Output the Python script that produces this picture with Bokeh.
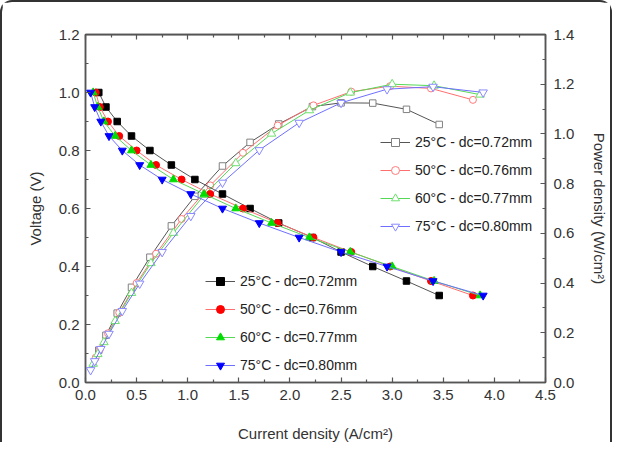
from bokeh.plotting import figure
from bokeh.models import (Range1d, LinearAxis, Legend, LegendItem, FixedTicker,
                          NumeralTickFormatter, CustomJSTickFormatter, Span)
from bokeh.embed import file_html
from bokeh.resources import INLINE

# ---- data ----
voltage = [1.0, 0.95, 0.9, 0.85, 0.8, 0.75, 0.7, 0.65, 0.6, 0.55, 0.5, 0.45, 0.4, 0.35, 0.3]

current_25 = [0.13, 0.20, 0.31, 0.45, 0.63, 0.84, 1.07, 1.34, 1.61, 1.89, 2.22, 2.50, 2.81, 3.14, 3.46]
current_50 = [0.10, 0.14, 0.22, 0.33, 0.50, 0.69, 0.94, 1.22, 1.54, 1.88, 2.23, 2.60, 2.98, 3.38, 3.79]
current_60 = [0.075, 0.12, 0.18, 0.29, 0.45, 0.64, 0.86, 1.16, 1.47, 1.82, 2.19, 2.59, 3.00, 3.41, 3.86]
current_75 = [0.05, 0.09, 0.15, 0.23, 0.36, 0.53, 0.75, 1.03, 1.34, 1.70, 2.09, 2.50, 2.95, 3.40, 3.89]

power_25 = [0.130, 0.190, 0.279, 0.383, 0.504, 0.630, 0.749, 0.871, 0.966, 1.040, 1.110, 1.125, 1.124, 1.099, 1.038]
power_50 = [0.100, 0.133, 0.198, 0.281, 0.400, 0.518, 0.658, 0.793, 0.924, 1.034, 1.115, 1.170, 1.192, 1.183, 1.137]
power_60 = [0.075, 0.114, 0.162, 0.247, 0.360, 0.480, 0.602, 0.754, 0.882, 1.001, 1.095, 1.166, 1.200, 1.194, 1.158]
power_75 = [0.050, 0.086, 0.135, 0.196, 0.288, 0.398, 0.525, 0.670, 0.804, 0.935, 1.045, 1.125, 1.180, 1.190, 1.167]

series_labels = ["25°C - dc=0.72mm", "50°C - dc=0.76mm", "60°C - dc=0.77mm", "75°C - dc=0.80mm"]

x_ticks = [0.0, 0.5, 1.0, 1.5, 2.0, 2.5, 3.0, 3.5, 4.0, 4.5]
x_minor = [0.25, 0.75, 1.25, 1.75, 2.25, 2.75, 3.25, 3.75, 4.25]
v_ticks = [0.0, 0.2, 0.4, 0.6, 0.8, 1.0, 1.2]
v_minor = [0.1, 0.3, 0.5, 0.7, 0.9, 1.1]
p_ticks = [0.0, 0.2, 0.4, 0.6, 0.8, 1.0, 1.2, 1.4]
p_minor = [0.1, 0.3, 0.5, 0.7, 0.9, 1.1, 1.3]

currents = [current_25, current_50, current_60, current_75]
powers = [power_25, power_50, power_60, power_75]

# ---- style ----
FONT = "Liberation Sans"
AX = "#555555"
TXT = "#333333"
fill_colors = ["#000000", "#ff0000", "#00dd00", "#0000ff"]
line_colors = ["#555555", "#ff6f6f", "#55d855", "#6f6fff"]
open_colors = ["#808080", "#ff7a7a", "#6ee06e", "#8a8aff"]
markers = ["square", "circle", "triangle", "inverted_triangle"]
fsizes = [6.5, 7, 8, 8]
osizes = [6.5, 7, 8.5, 8.5]

W, H = 612, 442
p = figure(width=W, height=H, output_backend="svg", toolbar_location=None,
           x_range=Range1d(0, 4.5), y_range=Range1d(0, 1.2),
           min_border_left=83, min_border_right=69, min_border_top=32, min_border_bottom=57,
           styles={"border-left": "2px solid #333333", "border-top": "2px solid #333333",
                   "border-right": "2px solid #333333",
                   "border-top-left-radius": "12px", "border-top-right-radius": "12px"})
p.extra_y_ranges = {"power": Range1d(0, 1.4)}
p.xgrid.visible = False
p.ygrid.visible = False
p.outline_line_color = AX
p.outline_line_width = 1.5
p.background_fill_color = "white"
p.border_fill_color = "white"

xax = p.below[0]
yax = p.left[0]
xax.ticker = FixedTicker(ticks=x_ticks, minor_ticks=x_minor)
yax.ticker = FixedTicker(ticks=v_ticks, minor_ticks=v_minor)
xax.formatter = NumeralTickFormatter(format="0.0")
yax.formatter = NumeralTickFormatter(format="0.0")
xax.axis_label = "Current density (A/cm²)"
yax.axis_label = "Voltage (V)"

right = LinearAxis(y_range_name="power", axis_label="Power density (W/cm²)",
                   ticker=FixedTicker(ticks=p_ticks, minor_ticks=p_minor),
                   formatter=NumeralTickFormatter(format="0.0"))
p.add_layout(right, "right")
top = LinearAxis(ticker=FixedTicker(ticks=x_ticks, minor_ticks=x_minor),
                 formatter=CustomJSTickFormatter(code="return ''"))
p.add_layout(top, "above")

for ax in [xax, yax, right, top]:
    ax.axis_line_color = AX
    ax.axis_line_width = 1.5
    ax.major_tick_line_color = AX
    ax.minor_tick_line_color = AX
    ax.major_tick_line_width = 1.2
    ax.minor_tick_line_width = 1.2
    ax.major_tick_in = 5
    ax.major_tick_out = 0
    ax.minor_tick_in = 3
    ax.minor_tick_out = 0
    ax.major_label_text_font = FONT
    ax.major_label_text_font_size = "15px"
    ax.major_label_text_color = TXT
    ax.axis_label_text_font = FONT
    ax.axis_label_text_font_size = "15px"
    ax.axis_label_text_font_style = "normal"
    ax.axis_label_text_color = TXT
top.major_label_standoff = 0
xax.major_label_standoff = 7
xax.axis_label_standoff = 22
yax.major_label_standoff = 6
yax.axis_label_standoff = 12
right.major_label_standoff = 8
right.axis_label_standoff = 14

# top edge of the plotting frame
p.add_layout(Span(location=1.2, dimension="width", line_color=AX, line_width=1.5))

v_items = []
p_items = []
for i in range(4):
    pl = p.line(currents[i], powers[i], y_range_name="power", line_color=line_colors[i], line_width=1)
    ps = p.scatter(currents[i], powers[i], y_range_name="power", marker=markers[i], size=osizes[i],
                   fill_color="white", line_color=open_colors[i], line_width=1)
    p_items.append(LegendItem(label=series_labels[i], renderers=[pl, ps]))
for i in range(4):
    vl = p.line(currents[i], voltage, line_color=line_colors[i], line_width=1)
    vs = p.scatter(currents[i], voltage, marker=markers[i], size=fsizes[i],
                   fill_color=fill_colors[i], line_color=fill_colors[i])
    v_items.append(LegendItem(label=series_labels[i], renderers=[vl, vs]))

def make_legend(items, loc):
    lg = Legend(items=items, location=loc, orientation="vertical",
                border_line_color=None, background_fill_alpha=0, padding=0, margin=0,
                spacing=8, glyph_width=30, glyph_height=20, label_height=20,
                label_standoff=5, label_text_font=FONT, label_text_font_size="14px",
                label_text_color="#222222")
    return lg

p.add_layout(make_legend(v_items, (120, 7)))
p.add_layout(make_legend(p_items, (295, 146)))

open("out.html", "w").write(file_html(p, INLINE))
